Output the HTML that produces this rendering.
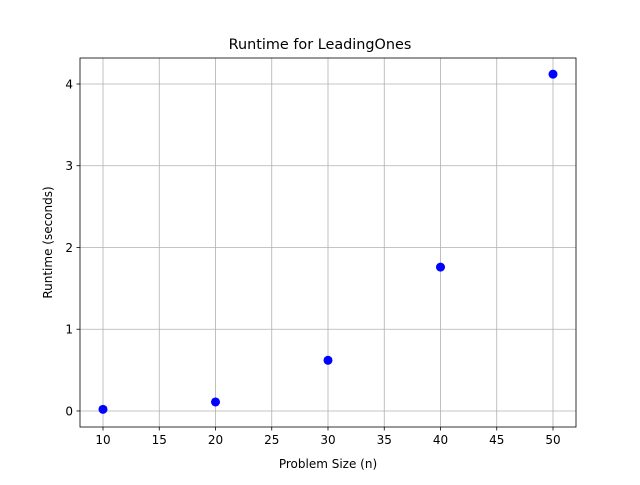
<!DOCTYPE html>
<html><head><meta charset="utf-8"><style>
body{margin:0;background:#fff}
text{font-family:"DejaVu Sans","Liberation Sans",sans-serif;fill:#000}
</style></head><body>
<svg id="chart" width="640" height="480" viewBox="0 0 640 480" xmlns="http://www.w3.org/2000/svg">
<rect width="640" height="480" fill="#fff"/>
<g id="grid"></g>
<g id="points"></g>
<rect x="80" y="58" width="496" height="369" fill="none" stroke="#000" stroke-width="0.8"/>
<g id="ticks"></g>
<text x="320" y="49" font-size="14.4" text-anchor="middle">Runtime for LeadingOnes</text>
<text x="328" y="468" font-size="12" text-anchor="middle">Problem Size (n)</text>
<text transform="translate(52,242.5) rotate(-90)" font-size="12" text-anchor="middle">Runtime (seconds)</text>
</svg>
<script>
const sizes=[10,20,30,40,50];
const runtimes=[0.02,0.11,0.62,1.76,4.12];
const xTicks=[10,15,20,25,30,35,40,45,50];
const yTicks=[0,1,2,3,4];
const NS="http://www.w3.org/2000/svg";
const X0=80,X1=576,Y0=427,Y1=58,xmin=7.956,xmax=52.044,ymin=-0.196,ymax=4.318;
function sx(v){return X0+(v-xmin)/(xmax-xmin)*(X1-X0);}
function sy(v){return Y0-(v-ymin)/(ymax-ymin)*(Y0-Y1);}
function mk(tag,attrs,parent){const e=document.createElementNS(NS,tag);for(const k in attrs)e.setAttribute(k,attrs[k]);document.getElementById(parent).appendChild(e);return e;}
xTicks.forEach(t=>{const x=sx(t);
 let g=mk('line',{x1:x,x2:x,y1:Y1,y2:Y0,stroke:'#b0b0b0','stroke-width':0.8},'grid');
 
 
 let l=mk('line',{x1:x,x2:x,y1:Y0,y2:Y0+3.5,stroke:'#000','stroke-width':0.8},'ticks');
 
 
 let tx=mk('text',{x:x,y:Y0+17,'font-size':12,'text-anchor':'middle'},'ticks');tx.textContent=t;
 
 
});
yTicks.forEach(t=>{const y=sy(t);
 let g=mk('line',{x1:X0,x2:X1,y1:y,y2:y,stroke:'#b0b0b0','stroke-width':0.8},'grid');
 
 
 let l=mk('line',{x1:X0-3.5,x2:X0,y1:y,y2:y,stroke:'#000','stroke-width':0.8},'ticks');
 
 
 let tx=mk('text',{x:X0-7,y:y+4.5,'font-size':12,'text-anchor':'end'},'ticks');tx.textContent=t;
 
 
});
sizes.forEach((s,i)=>{
 let c=mk('circle',{cx:sx(s),cy:sy(runtimes[i]),r:4.5,fill:'#0000ff'},'points');
 
 
});
</script>
</body></html>
